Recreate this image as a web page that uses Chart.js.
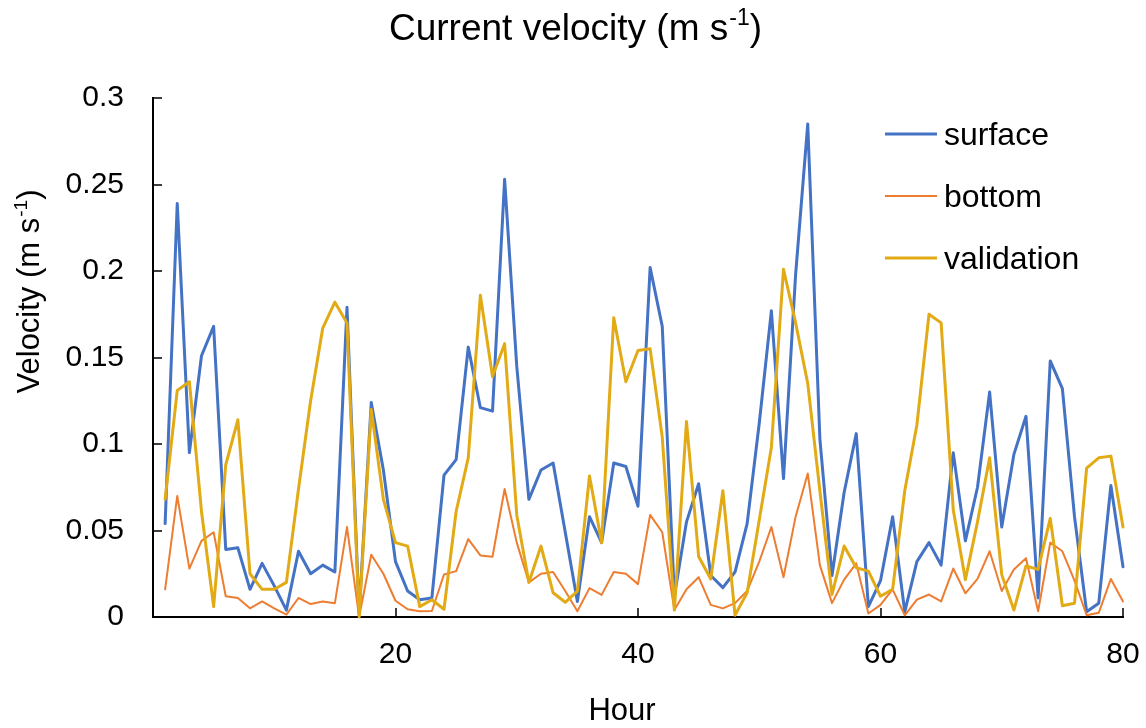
<!DOCTYPE html>
<html>
<head>
<meta charset="utf-8">
<title>Current velocity</title>
<script src="https://cdn.jsdelivr.net/npm/chart.js@4.4.1/dist/chart.umd.min.js"></script>
<style>
  html, body { margin: 0; padding: 0; background: #fff; }
</style>
</head>
<body>
<canvas id="chart" width="1146" height="728"></canvas>
<script>
// hours on the x axis
var hours = [1, 2, 3, 4, 5, 6, 7, 8, 9, 10, 11, 12, 13, 14, 15, 16, 17, 18, 19, 20,
  21, 22, 23, 24, 25, 26, 27, 28, 29, 30, 31, 32, 33, 34, 35, 36, 37, 38, 39, 40,
  41, 42, 43, 44, 45, 46, 47, 48, 49, 50, 51, 52, 53, 54, 55, 56, 57, 58, 59, 60,
  61, 62, 63, 64, 65, 66, 67, 68, 69, 70, 71, 72, 73, 74, 75, 76, 77, 78, 79, 80];

// velocities (m s-1)
var surface = [0.054, 0.239, 0.095, 0.151, 0.168, 0.039, 0.040, 0.016, 0.031, 0.018,
  0.004, 0.038, 0.025, 0.030, 0.026, 0.179, 0.002, 0.124, 0.085, 0.032,
  0.015, 0.010, 0.011, 0.082, 0.091, 0.156, 0.121, 0.119, 0.253, 0.145,
  0.068, 0.085, 0.089, 0.049, 0.009, 0.058, 0.043, 0.089, 0.087, 0.064,
  0.202, 0.168, 0.012, 0.055, 0.077, 0.024, 0.017, 0.026, 0.054, 0.112,
  0.177, 0.080, 0.198, 0.285, 0.103, 0.024, 0.072, 0.106, 0.006, 0.021,
  0.058, 0.003, 0.032, 0.043, 0.030, 0.095, 0.044, 0.075, 0.130, 0.052,
  0.094, 0.116, 0.011, 0.148, 0.132, 0.058, 0.003, 0.008, 0.076, 0.029];

var bottom = [0.016, 0.070, 0.028, 0.044, 0.049, 0.012, 0.011, 0.005, 0.009, 0.005,
  0.0014, 0.011, 0.0075, 0.009, 0.008, 0.052, 0.000, 0.036, 0.025, 0.0094,
  0.0045, 0.0033, 0.0035, 0.0246, 0.0265, 0.045, 0.0356, 0.0348, 0.074, 0.043,
  0.020, 0.025, 0.026, 0.015, 0.0033, 0.0167, 0.0128, 0.026, 0.025, 0.019,
  0.059, 0.049, 0.004, 0.016, 0.023, 0.007, 0.005, 0.008, 0.015, 0.032,
  0.052, 0.023, 0.058, 0.083, 0.030, 0.008, 0.0216, 0.031, 0.002, 0.007,
  0.016, 0.001, 0.010, 0.013, 0.009, 0.028, 0.0137, 0.022, 0.038, 0.015,
  0.0275, 0.034, 0.0033, 0.043, 0.038, 0.021, 0.001, 0.0024, 0.022, 0.009];

var validation = [0.068, 0.131, 0.136, 0.061, 0.006, 0.088, 0.114, 0.025, 0.016, 0.016,
  0.020, 0.074, 0.125, 0.167, 0.182, 0.170, 0.000, 0.120, 0.068, 0.043,
  0.041, 0.006, 0.010, 0.0045, 0.061, 0.092, 0.186, 0.139, 0.158, 0.059,
  0.020, 0.041, 0.014, 0.0085, 0.015, 0.0815, 0.043, 0.173, 0.136, 0.154,
  0.155, 0.104, 0.004, 0.113, 0.035, 0.022, 0.073, 0.001, 0.014, 0.056,
  0.098, 0.201, 0.170, 0.135, 0.073, 0.013, 0.041, 0.0285, 0.0265, 0.012,
  0.016, 0.073, 0.111, 0.175, 0.170, 0.062, 0.0216, 0.055, 0.092, 0.0245,
  0.004, 0.0295, 0.0275, 0.057, 0.0065, 0.008, 0.086, 0.092, 0.093, 0.052];

// tick labels
var xTicks = [20, 40, 60, 80];
var yTicks = [0, 0.05, 0.1, 0.15, 0.2, 0.25, 0.3];

var FONT = '"Liberation Sans", Arial, sans-serif';

function toPoints(values) {
  return hours.map(function (h, i) { return { x: h, y: values[i] }; });
}

// text with a superscript part, e.g. "m s" + "-1" + ")"
function drawSupText(ctx, base, sup, tail, x, y, size) {
  var small = Math.round(size * 0.62);
  ctx.font = size + 'px ' + FONT;
  var w1 = ctx.measureText(base).width;
  var w3 = ctx.measureText(tail).width;
  ctx.font = small + 'px ' + FONT;
  var w2 = ctx.measureText(sup).width;
  var start = x - (w1 + w2 + w3) / 2;
  ctx.textAlign = 'left';
  ctx.textBaseline = 'alphabetic';
  ctx.font = size + 'px ' + FONT;
  ctx.fillText(base, start, y);
  ctx.font = small + 'px ' + FONT;
  ctx.fillText(sup, start + w1 + 1, y - size * 0.4);
  ctx.font = size + 'px ' + FONT;
  ctx.fillText(tail, start + w1 + w2 + 1, y);
}

var extras = {
  id: 'extras',
  afterDraw: function (chart) {
    var ctx = chart.ctx;
    var area = chart.chartArea;
    var xs = chart.scales.x, ys = chart.scales.y;
    ctx.save();

    // tick marks pointing into the plot
    ctx.strokeStyle = '#000';
    ctx.lineWidth = 1.5;
    ctx.beginPath();
    yTicks.forEach(function (v) {
      var py = Math.round(ys.getPixelForValue(v));
      ctx.moveTo(area.left, py);
      ctx.lineTo(area.left + 9, py);
    });
    xTicks.forEach(function (v) {
      var px = Math.round(xs.getPixelForValue(v));
      ctx.moveTo(px, area.bottom);
      ctx.lineTo(px, area.bottom - 9);
    });
    ctx.stroke();

    ctx.fillStyle = '#000';
    // chart title
    drawSupText(ctx, 'Current velocity (m s', '-1', ')', 575, 40, 37);

    // x axis title
    ctx.font = '31px ' + FONT;
    ctx.textAlign = 'center';
    ctx.textBaseline = 'alphabetic';
    ctx.fillText('Hour', 622, 720);

    // y axis title
    ctx.save();
    ctx.translate(28, 292);
    ctx.rotate(-Math.PI / 2);
    drawSupText(ctx, 'Velocity (m s', '-1', ')', 0, 11, 31);
    ctx.restore();

    // legend
    chart.data.datasets.forEach(function (ds, i) {
      var ly = area.top + 36 + i * 62;
      ctx.strokeStyle = ds.borderColor;
      ctx.lineWidth = ds.borderWidth;
      ctx.beginPath();
      ctx.moveTo(area.right - 238, ly);
      ctx.lineTo(area.right - 186, ly);
      ctx.stroke();
      ctx.font = '32px ' + FONT;
      ctx.textAlign = 'left';
      ctx.textBaseline = 'middle';
      ctx.fillText(ds.label, area.right - 179, ly + 2);
    });
    ctx.restore();
  }
};

var ctx = document.getElementById('chart').getContext('2d');
new Chart(ctx, {
  type: 'line',
  data: {
    datasets: [
      { label: 'surface', data: toPoints(surface), borderColor: '#4472C4', borderWidth: 3, order: 3 },
      { label: 'bottom', data: toPoints(bottom), borderColor: '#ED7D31', borderWidth: 2, order: 2 },
      { label: 'validation', data: toPoints(validation), borderColor: '#E2AA15', borderWidth: 3, order: 1 }
    ]
  },
  options: {
    responsive: false,
    devicePixelRatio: 1,
    animation: false,
    clip: false,
    elements: {
      point: { radius: 0, hoverRadius: 0 },
      line: { tension: 0, borderJoinStyle: 'round', borderCapStyle: 'round' }
    },
    layout: { padding: { top: 98, right: 23, bottom: 0, left: 0 } },
    plugins: {
      legend: { display: false },
      title: { display: false },
      tooltip: { enabled: false }
    },
    scales: {
      x: {
        type: 'linear',
        min: 0,
        max: 80,
        afterBuildTicks: function (scale) {
          scale.ticks = xTicks.map(function (v) { return { value: v }; });
        },
        afterFit: function (scale) {
          scale.height = 111;
          scale.paddingLeft = 0;
          scale.paddingRight = 0;
        },
        grid: { display: false, drawTicks: false },
        border: { display: true, color: '#000', width: 2 },
        ticks: { color: '#000', padding: 20, maxRotation: 0, font: { size: 30, family: FONT } }
      },
      y: {
        min: 0,
        max: 0.3,
        afterBuildTicks: function (scale) {
          scale.ticks = yTicks.map(function (v) { return { value: v }; });
        },
        afterFit: function (scale) {
          scale.width = 153;
          scale.paddingTop = 0;
          scale.paddingBottom = 0;
        },
        grid: { display: false, drawTicks: false },
        border: { display: true, color: '#000', width: 2 },
        ticks: {
          color: '#000',
          padding: 29,
          font: { size: 30, family: FONT },
          callback: function (v) { return String(Number(v.toFixed(2))); }
        }
      }
    }
  },
  plugins: [extras]
});
</script>
</body>
</html>
